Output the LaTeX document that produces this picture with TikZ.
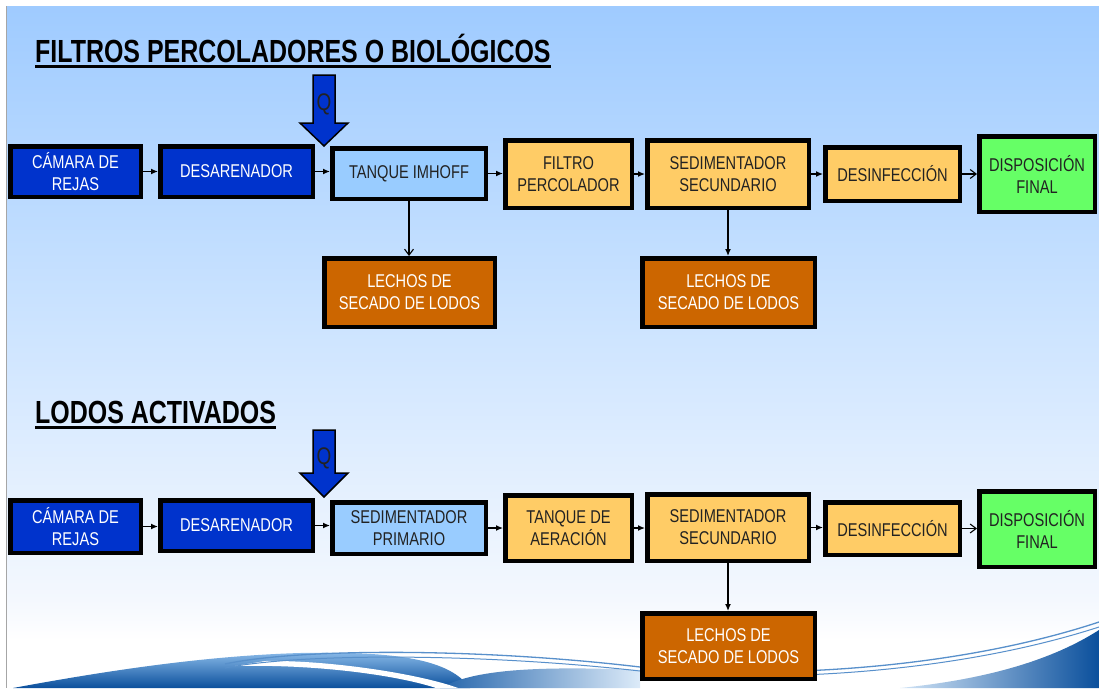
\documentclass[tikz,border=0pt]{standalone}
\usepackage{fontspec}
\setmainfont{Liberation Sans}[FakeStretch=0.79]
\newfontfamily\titlefont{Liberation Sans}[FakeStretch=0.78]
\usetikzlibrary{arrows.meta}
\definecolor{dblue}{HTML}{0033CC}
\definecolor{lblue}{HTML}{99CCFF}
\definecolor{orng}{HTML}{FFCC66}
\definecolor{grn}{HTML}{66FF66}
\definecolor{brwn}{HTML}{CC6600}
\definecolor{bgtop}{HTML}{9FCBFF}
\definecolor{bgmid}{HTML}{C9E2FF}
\definecolor{bgbot}{HTML}{F4F8FE}
\definecolor{txt}{HTML}{222222}
\definecolor{wave}{HTML}{0A4F9C}
\definecolor{wavel}{HTML}{8CBCEA}
\tikzset{
  bx/.style={draw=black, line width=4.5pt, align=center, inner sep=0pt,
    font=\fontsize{18.5}{22}\selectfont},
  bdark/.style={bx, fill=dblue, text=white},
  blight/.style={bx, fill=lblue, text=txt},
  bor/.style={bx, fill=orng, text=txt},
  bgr/.style={bx, fill=grn, text=txt},
  bbr/.style={bx, fill=brwn, text=white},
  fl/.style={line width=1.3pt, -{Latex[length=7pt,width=6pt]}},
  ol/.style={line width=1.1pt, -{Straight Barb[length=6pt,width=9pt]}},
  ttl/.style={anchor=base west, inner sep=0pt, text=black,
    font=\titlefont\bfseries\fontsize{32}{34}\selectfont},
  qarrow/.style={fill=dblue, draw=black, line width=1.5pt, line join=miter},
  qtxt/.style={text=txt, inner sep=0pt, font=\fontsize{24}{26}\selectfont}
}
\begin{document}
\begin{tikzpicture}[x=1pt,y=-1pt]
\useasboundingbox (0,0) rectangle (1099,688);
% background
\fill[white] (0,0) rectangle (1099,688);
\shade[top color=bgtop, bottom color=bgmid] (7,6) rectangle (1099,300);
\shade[top color=bgmid, bottom color=bgbot] (7,300) rectangle (1099,600);
\shade[top color=bgbot, bottom color=white] (7,600) rectangle (1099,640);
% wave (left)
\shade[top color=wavel, bottom color=wave]
  (13,688) .. controls (100,672) and (200,656) .. (300,653)
  .. controls (400,651) and (450,660) .. (470,688) -- cycle;
\shade[left color=wave!80!wavel, right color=wavel!30]
  (440,688) .. controls (470,672) and (520,665) .. (640,670) -- (640,688) -- cycle;
\fill[white]
  (235,666) .. controls (320,664) and (400,676) .. (436,688) -- (458,688)
  .. controls (420,674) and (330,660) .. (265,661) -- cycle;
% wave (right)
\shade[left color=wavel!40, right color=wave]
  (900,688) .. controls (1000,678) and (1060,655) .. (1099,630) -- (1099,688) -- cycle;
% wave lines
\draw[wavel!60!wave, line width=1.3pt]
  (225,664) .. controls (300,648) and (480,648) .. (640,667)
  .. controls (780,680) and (960,668) .. (1099,622);
\draw[wavel!60!wave, line width=1.0pt]
  (225,668) .. controls (300,653) and (480,653) .. (640,671)
  .. controls (780,684) and (960,672) .. (1099,627);
% left border
\draw[gray!70, line width=1pt] (6.5,6) -- (6.5,688);

% titles
\node[ttl] (title1) at (35,62) {FILTROS PERCOLADORES O BIOLÓGICOS};
\draw[line width=2.5pt] ([yshift=-4.5pt]title1.base west) -- ([yshift=-4.5pt]title1.base east);
\node[ttl] (title2) at (35,423) {LODOS ACTIVADOS};
\draw[line width=2.5pt] ([yshift=-4.5pt]title2.base west) -- ([yshift=-4.5pt]title2.base east);

% ---- row 1 ----
\node[bdark, minimum width=130.5pt, minimum height=50.5pt] (c1) at (75.5,171.5) {CÁMARA DE\\REJAS};
\node[bdark, minimum width=152.5pt, minimum height=50.5pt] (d1) at (236.5,171.5) {DESARENADOR};
\node[blight, minimum width=153.5pt, minimum height=50.5pt] (t1) at (409,173.5) {TANQUE IMHOFF};
\node[bor, minimum width=126.5pt, minimum height=67.5pt] (f1) at (568.5,174) {FILTRO\\PERCOLADOR};
\node[bor, minimum width=161.5pt, minimum height=67.5pt] (s1) at (728,174) {SEDIMENTADOR\\SECUNDARIO};
\node[bor, minimum width=134.5pt, minimum height=53.5pt] (e1) at (892.5,174) {DESINFECCIÓN};
\node[bgr, minimum width=115.5pt, minimum height=75.5pt] (p1) at (1037,174) {DISPOSICIÓN\\FINAL};
\node[bbr, minimum width=170.5pt, minimum height=68.5pt] (la1) at (409.5,292.5) {LECHOS DE\\SECADO DE LODOS};
\node[bbr, minimum width=172.5pt, minimum height=68.5pt] (lb1) at (728.5,292.5) {LECHOS DE\\SECADO DE LODOS};

\draw[fl] (c1.east) -- (c1.east -| d1.west);
\draw[fl] (d1.east) -- (d1.east -| t1.west);
\draw[fl] (t1.east) -- (t1.east -| f1.west);
\draw[fl] (f1.east) -- (f1.east -| s1.west);
\draw[fl] (s1.east) -- (s1.east -| e1.west);
\draw[ol] (e1.east) -- (e1.east -| p1.west);
\draw[ol] (t1.south) -- (t1.south |- la1.north);
\draw[fl] (s1.south) -- (s1.south |- lb1.north);

\draw[qarrow] (313,75) -- (335,75) -- (335,123) -- (348,123) -- (324,146) -- (300,123) -- (313,123) -- cycle;
\node[qtxt] (q1) at (324,104) {Q};

% ---- row 2 ----
\node[bdark, minimum width=130.5pt, minimum height=52.5pt] (c2) at (75.5,526.5) {CÁMARA DE\\REJAS};
\node[bdark, minimum width=152.5pt, minimum height=50.5pt] (d2) at (236.5,525.5) {DESARENADOR};
\node[blight, minimum width=153.5pt, minimum height=51.5pt] (sp2) at (409,528) {SEDIMENTADOR\\PRIMARIO};
\node[bor, minimum width=126.5pt, minimum height=65.5pt] (ta2) at (568.5,528) {TANQUE DE\\AERACIÓN};
\node[bor, minimum width=161.5pt, minimum height=66.5pt] (s2) at (728,527.5) {SEDIMENTADOR\\SECUNDARIO};
\node[bor, minimum width=134.5pt, minimum height=52.5pt] (e2) at (892.5,528.5) {DESINFECCIÓN};
\node[bgr, minimum width=115.5pt, minimum height=75.5pt] (p2) at (1037,529) {DISPOSICIÓN\\FINAL};
\node[bbr, minimum width=172.5pt, minimum height=65.5pt] (l2) at (728.5,646) {LECHOS DE\\SECADO DE LODOS};

\draw[fl] (c2.east) -- (c2.east -| d2.west);
\draw[fl] (d2.east) -- (d2.east -| sp2.west);
\draw[fl] (sp2.east) -- (sp2.east -| ta2.west);
\draw[fl] (ta2.east) -- (ta2.east -| s2.west);
\draw[fl] (s2.east) -- (s2.east -| e2.west);
\draw[ol] (e2.east) -- (e2.east -| p2.west);
\draw[fl] (s2.south) -- (s2.south |- l2.north);

\draw[qarrow] (313,430) -- (335,430) -- (335,473) -- (348,473) -- (324,497) -- (300,473) -- (313,473) -- cycle;
\node[qtxt] (q2) at (324,458) {Q};
\end{tikzpicture}
\end{document}
